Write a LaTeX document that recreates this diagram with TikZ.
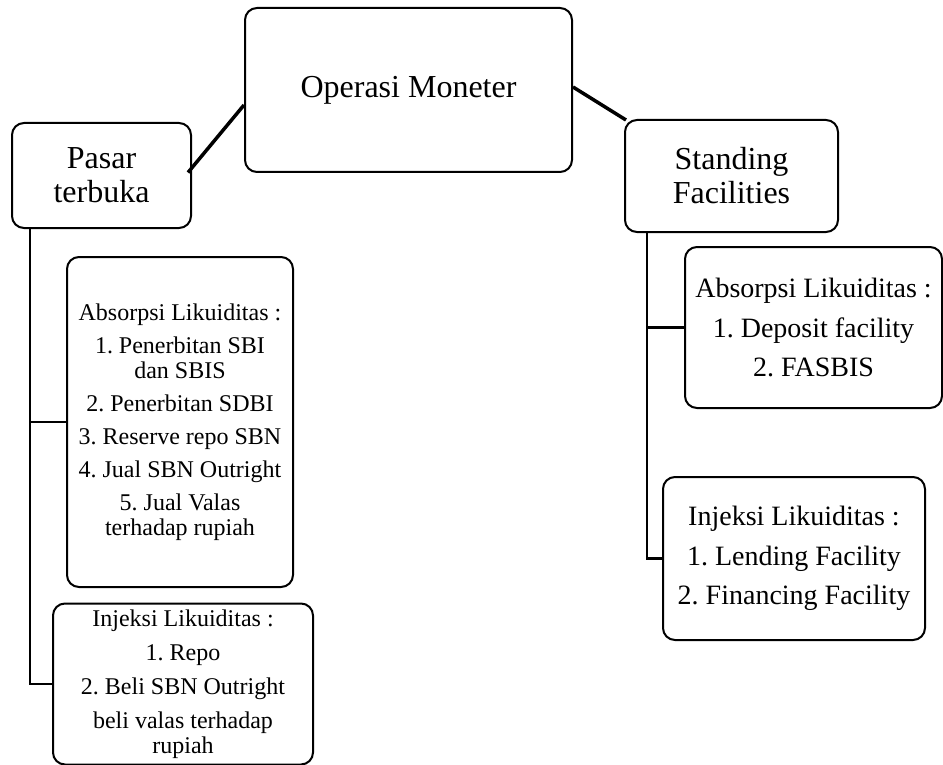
\documentclass[tikz,border=0pt]{standalone}
\usepackage{fontspec}
\setmainfont{Liberation Serif}
\usepackage{tikz}
\usetikzlibrary{positioning,calc}
\frenchspacing
\tikzset{
  bigbox/.style={rectangle,rounded corners=12pt,draw=black,line width=2pt,align=center,inner sep=0pt,font=\fontsize{32}{34}\selectfont},
  listbox/.style={rectangle,rounded corners=12pt,draw=black,line width=2pt,align=center,inner sep=0pt,font=\fontsize{28}{39.5}\selectfont},
  smalllist/.style={rectangle,rounded corners=12pt,draw=black,line width=2pt,align=center,inner sep=0pt,font=\fontsize{24}{25}\selectfont},
  link/.style={line width=2.5pt},
  slant/.style={line width=3.5pt}
}
\begin{document}
\begin{tikzpicture}[x=1pt,y=-1pt]
  \useasboundingbox (0,0) rectangle (943,765);
  \node[bigbox,minimum width=327pt,minimum height=164pt] (opm) at (408.5,90) {Operasi Moneter};
  \node[bigbox,minimum width=179pt,minimum height=105pt] (pasar) at (101.5,175.5) {Pasar\\terbuka};
  \node[bigbox,minimum width=213pt,minimum height=112pt] (stand) at (731.5,176) {Standing\\Facilities};
  \node[smalllist,minimum width=226pt,minimum height=330pt] (labs) at (180,422)
    {Absorpsi Likuiditas :\\[8pt]1. Penerbitan SBI\\dan SBIS\\[8pt]2. Penerbitan SDBI\\[8pt]3. Reserve repo SBN\\[8pt]4. Jual SBN Outright\\[8pt]5. Jual Valas\\terhadap rupiah};
  \node[smalllist,minimum width=260pt,minimum height=161pt] (linj) at (183,684)
    {Injeksi Likuiditas :\\[9pt]1. Repo\\[9pt]2. Beli SBN Outright\\[9pt]beli valas terhadap\\rupiah};
  \node[listbox,minimum width=257pt,minimum height=161pt] (rabs) at (813.5,327.5)
    {Absorpsi Likuiditas :\\1. Deposit facility\\2. FASBIS};
  \node[listbox,minimum width=262pt,minimum height=163pt] (rinj) at (794,558.5)
    {Injeksi Likuiditas :\\1. Lending Facility\\2. Financing Facility};
  \coordinate (ltrunk) at (30,228);
  \coordinate (rtrunk) at (647,232);
  \draw[slant] ($(opm.west)+(0,15)$) -- ($(pasar.east)+(-4,-3)$);
  \draw[slant] ($(opm.east)+(0,-3)$) -- ($(stand.north west)+(2,1)$);
  \draw[link] (ltrunk) |- (linj.west);
  \draw[link] (ltrunk |- labs.west) -- (labs.west);
  \draw[link] (rtrunk) |- (rinj.west);
  \draw[link] (rtrunk |- rabs.west) -- (rabs.west);
\end{tikzpicture}
\end{document}
